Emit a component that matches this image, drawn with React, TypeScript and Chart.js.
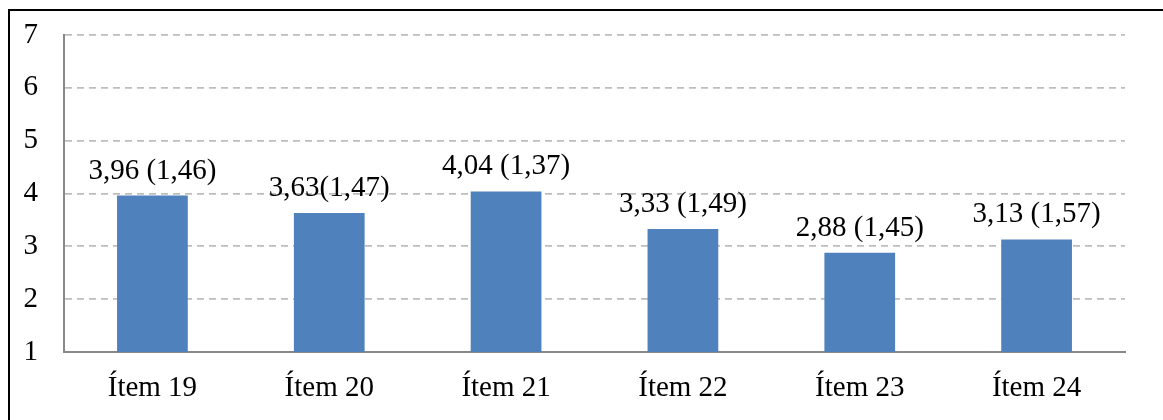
import React, { useEffect, useRef } from "react";
import { Chart, registerables } from "chart.js";

Chart.register(...registerables);

const categories = ["Ítem 19", "Ítem 20", "Ítem 21", "Ítem 22", "Ítem 23", "Ítem 24"];
const means = [3.96, 3.63, 4.04, 3.33, 2.88, 3.13];
const valueLabels = ["3,96 (1,46)", "3,63(1,47)", "4,04 (1,37)", "3,33 (1,49)", "2,88 (1,45)", "3,13 (1,57)"];
const yMin = 1;
const yMax = 7;

const FONT = "'Liberation Serif', 'Times New Roman', serif";

const labelPlugin = {
  id: "valueLabels",
  afterDatasetsDraw(chart: any) {
    const ctx = chart.ctx;
    const meta = chart.getDatasetMeta(0);
    ctx.save();
    ctx.font = `29px ${FONT}`;
    ctx.fillStyle = "#000";
    ctx.textAlign = "center";
    ctx.textBaseline = "alphabetic";
    meta.data.forEach((bar: any, i: number) => {
      ctx.fillText(valueLabels[i], bar.x, bar.y - 17);
    });
    ctx.restore();
  },
};

export default function App() {
  const ref = useRef<HTMLCanvasElement>(null);
  useEffect(() => {
    if (!ref.current) return;
    const chart = new Chart(ref.current, {
      type: "bar",
      data: {
        labels: categories,
        datasets: [
          {
            data: means,
            backgroundColor: "#4F81BD",
            borderWidth: 0,
            categoryPercentage: 1,
            barPercentage: 0.4,
          },
        ],
      },
      options: {
        animation: false,
        responsive: false,
        devicePixelRatio: 1,
        layout: { padding: { top: 35, right: 38, left: 0, bottom: 0 } },
        plugins: { legend: { display: false }, tooltip: { enabled: false } },
        scales: {
          x: {
            grid: { display: false, drawTicks: false },
            border: { color: "#888888", width: 2 },
            ticks: {
              color: "#000",
              font: { family: FONT, size: 29 },
              padding: 19,
              maxRotation: 0,
            },
            afterFit(scale: any) {
              scale.height = 68;
            },
          },
          y: {
            min: yMin,
            max: yMax,
            grid: { color: "#BDBDBD", lineWidth: 1.8, drawTicks: false },
            border: { color: "#888888", width: 2, dash: [7, 5] },
            ticks: {
              stepSize: 1,
              color: "#000",
              font: { family: FONT, size: 29 },
              padding: 26,
            },
            afterFit(scale: any) {
              scale.width = 64;
              scale.paddingTop = 0;
              scale.paddingBottom = 0;
            },
          },
        },
      },
      plugins: [labelPlugin],
    });
    return () => chart.destroy();
  }, []);

  return (
    <div style={{ position: "relative", width: 1163, height: 420, overflow: "hidden" }}>
      <style>{`body{margin:0;overflow:hidden;background:#fff}`}</style>
      <canvas
        ref={ref}
        width={1163}
        height={420}
        style={{ position: "absolute", left: 0, top: 0, width: 1163, height: 420 }}
      />
      <div
        style={{
          position: "absolute",
          left: 8,
          top: 9,
          width: 1300,
          height: 600,
          borderTop: "2px solid #000",
          borderLeft: "2px solid #000",
          pointerEvents: "none",
        }}
      />
    </div>
  );
}
